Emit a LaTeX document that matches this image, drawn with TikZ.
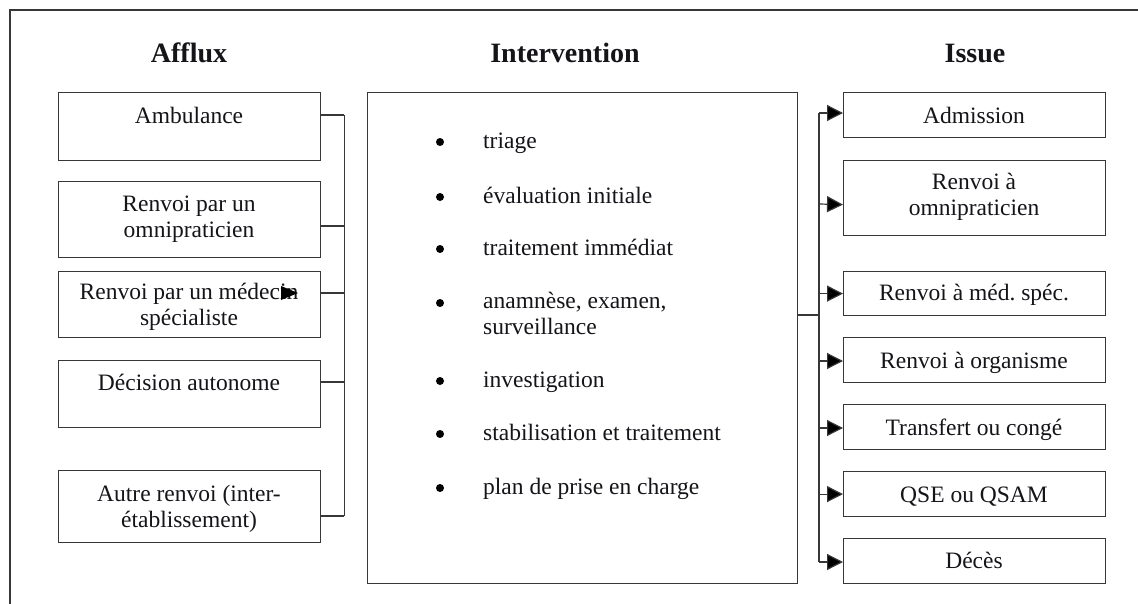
\documentclass[tikz,border=0pt]{standalone}
\usepackage{fontspec}
\setmainfont{Liberation Serif}
\usetikzlibrary{arrows.meta,calc}
\definecolor{linecol}{RGB}{55,55,55}
\definecolor{txtcol}{RGB}{20,20,25}
\begin{document}
\begin{tikzpicture}[x=1pt,y=-1pt,
  box/.style={draw=linecol, line width=1.2pt, rectangle, inner sep=0pt, anchor=north west},
  txt/.style={font=\fontsize{23.5}{25.7}\selectfont, text=txtcol, align=center, anchor=base, inner sep=0pt},
  itm/.style={font=\fontsize{23.5}{25.7}\selectfont, text=txtcol, align=left, anchor=base west, inner sep=0pt},
  ttl/.style={font=\fontsize{28}{32}\selectfont\bfseries, text=txtcol, anchor=base, inner sep=0pt},
  conn/.style={draw=linecol, line width=1.2pt},
  arr/.style={draw=linecol, line width=1.2pt, -{Triangle[length=16pt,width=16pt,fill=black]}},
  bul/.style={fill=black}]
\useasboundingbox (0,0) rectangle (1138,603);
\fill[white] (0,0) rectangle (1138,603);
% frame
\draw[draw=linecol, line width=1.2pt] (10,610) -- (10,10) -- (1145,10);

% titles
\node[ttl] (tA) at (189,62) {Afflux};
\node[ttl] (tI) at (565,62) {Intervention};
\node[ttl] (tS) at (975,62) {Issue};

% left boxes
\node[box, minimum width=262, minimum height=68] (amb) at (58,92) {};
\node[box, minimum width=262, minimum height=76] (omn) at (58,181) {};
\node[box, minimum width=262, minimum height=66] (med) at (58,271) {};
\node[box, minimum width=262, minimum height=67] (dec) at (58,360) {};
\node[box, minimum width=262, minimum height=72] (aut) at (58,470) {};
\node[txt] (amb-t) at (189,123) {Ambulance};
\node[txt] (omn-t) at (189,237) {Renvoi par un\\omnipraticien};
\node[txt] (med-t) at (189,325) {Renvoi par un médecin\\spécialiste};
\node[txt] (dec-t) at (189,390) {Décision autonome};
\node[txt] (aut-t) at (189,527) {Autre renvoi (inter-\\établissement)};
\fill[black] (281,286) -- (298,293) -- (281,300) -- cycle;

% left bus
\draw[conn] ([yshift=-23pt]amb.north east) -- ++(23,0) coordinate (lb1);
\draw[conn] ([yshift=-45pt]omn.north east) -- ++(23,0) coordinate (lb2);
\draw[conn] ([yshift=-22pt]med.north east) -- ++(23,0) coordinate (lb3);
\draw[conn] ([yshift=-22pt]dec.north east) -- ++(23,0) coordinate (lb4);
\draw[conn] ([yshift=-46pt]aut.north east) -- ++(23,0) coordinate (lb5);
\draw[conn] (lb1) -- (lb5);

% intervention box
\node[box, minimum width=430, minimum height=491] (inter) at (367,92) {};
\foreach \yb/\name in {148/triage,203/évaluation initiale,255/traitement immédiat,387/investigation,440/stabilisation et traitement,494/plan de prise en charge}{
  \fill[bul] (440,\yb-6) circle (4);
  \node[itm] at (483,\yb) {\name};
}
\fill[bul] (440,303) circle (4);
\node[itm] (anam) at (483,334) {anamnèse, examen,\\surveillance};

% right boxes
\node[box, minimum width=262, minimum height=45] (adm) at (843,92) {};
\node[box, minimum width=262, minimum height=75] (rom) at (843,160) {};
\node[box, minimum width=262, minimum height=44] (rms) at (843,271) {};
\node[box, minimum width=262, minimum height=45] (rorg) at (843,337) {};
\node[box, minimum width=262, minimum height=45] (trf) at (843,404) {};
\node[box, minimum width=262, minimum height=45] (qse) at (843,471) {};
\node[box, minimum width=262, minimum height=45] (dcs) at (843,538) {};
\node[txt] at (974,123) {Admission};
\node[txt] at (974,215) {Renvoi à\\omnipraticien};
\node[txt] at (974,300) {Renvoi à méd.\ spéc.};
\node[txt] at (974,368) {Renvoi à organisme};
\node[txt] at (974,435) {Transfert ou congé};
\node[txt] at (974,502) {QSE ou QSAM};
\node[txt] at (974,568) {Décès};

% right bus
\draw[conn] ([yshift=-223pt]inter.north east) -- ++(22,0) coordinate (rb);
\coordinate (rtop) at (819,113);
\coordinate (rbot) at (819,562);
\draw[conn] (rtop) -- (rbot);
\draw[arr] (rtop) -- (rtop -| adm.west);
\draw[arr] (819,204) -- ([yshift=-6.5pt]rom.west);
\draw[arr] (rb |- rms.west) -- (rms.west);
\draw[arr] (819,361) -- (rorg.west |- 0,361);
\draw[arr] (819,428) -- (trf.west |- 0,428);
\draw[arr] (rb |- qse.west) -- (qse.west);
\draw[arr] (rbot) -- (rbot -| dcs.west);
\end{tikzpicture}
\end{document}
